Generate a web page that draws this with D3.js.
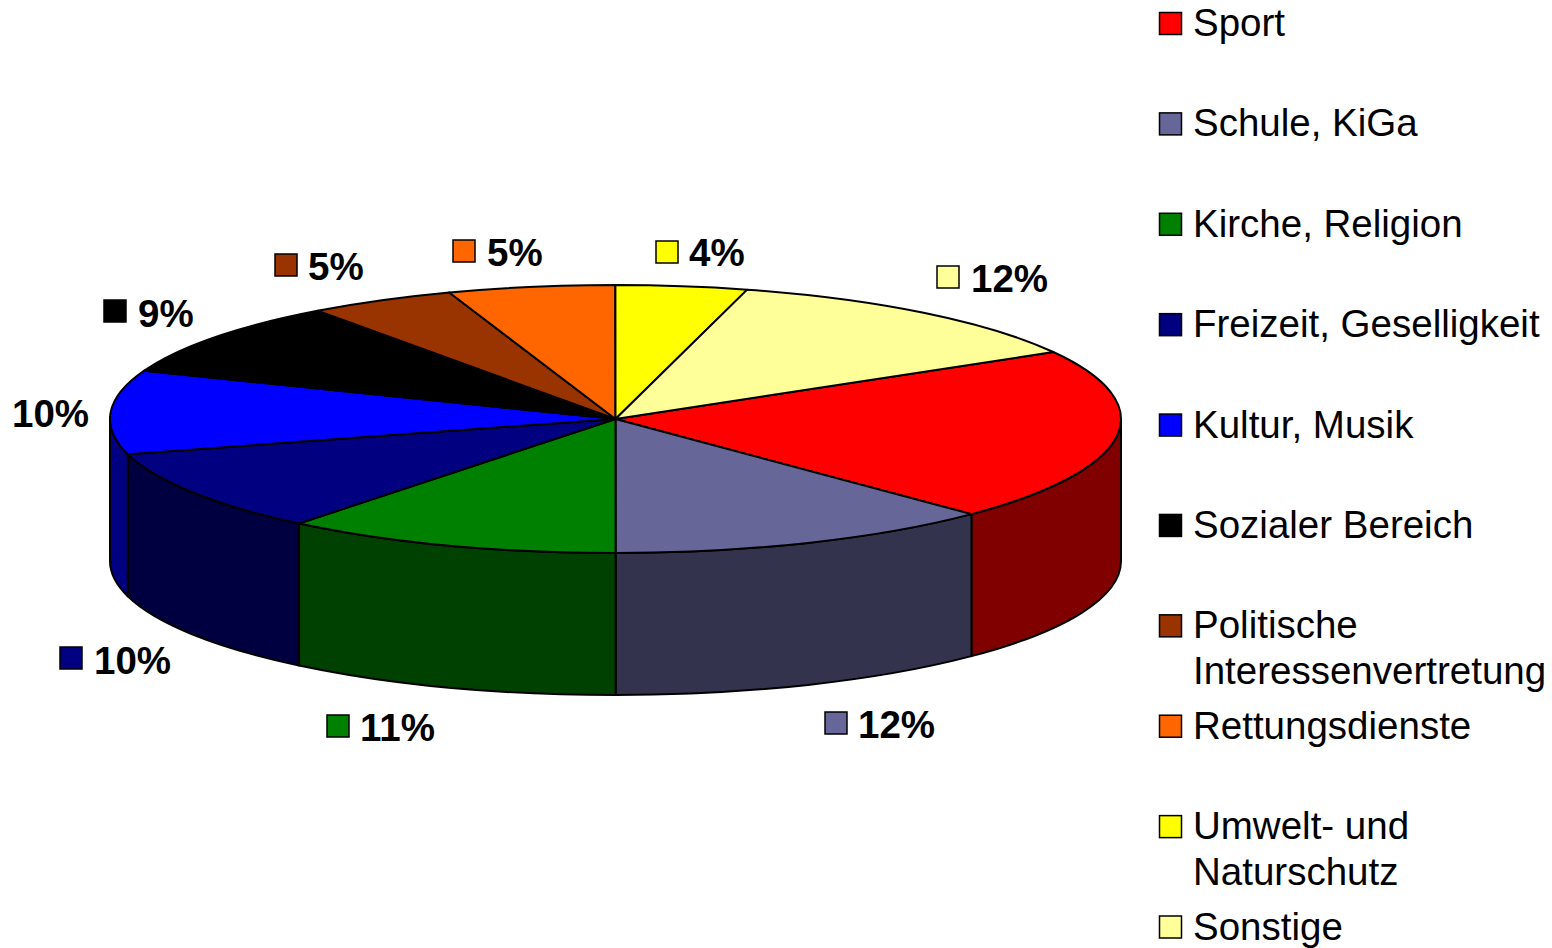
<!DOCTYPE html>
<html>
<head>
<meta charset="utf-8">
<script src="https://cdn.jsdelivr.net/npm/d3@7"></script>
<style>
  html, body { margin: 0; background: #fff; }
  text { font-family: "Liberation Sans", Arial, sans-serif; fill: #000; }
  .pct { font-size: 38.5px; font-weight: bold; }
  .leg { font-size: 38.5px; }
</style>
</head>
<body>
<div id="container"></div>
<script>
const width = 1552,
  height = 948,
  cx = 615.5,
  cy = 419,
  rx = 505.5,
  ry = 134,
  depth = 142;

// legend order, pie runs clockwise in this order
const categories = ["Sport", "Schule, KiGa", "Kirche, Religion", "Freizeit, Geselligkeit", "Kultur, Musik",
  "Sozialer Bereich", "Politische\nInteressenvertretung", "Rettungsdienste", "Umwelt- und\nNaturschutz", "Sonstige"];
const values = [20.9, 12.43, 10.77, 10.0, 10.1, 9.1, 4.7, 5.33, 4.2, 12.47];
const valueLabels = [null, "12%", "11%", "10%", "10%", "9%", "5%", "5%", "4%", "12%"];
const colors = ["#ff0000", "#666699", "#008000", "#000080", "#0000ff", "#000000", "#993300", "#ff6600", "#ffff00", "#ffff99"];

// where the data labels sit: key square left/top, text x/baseline. Kultur has no key in the original
const labelPos = [null, [825, 712, 858, 738], [327, 715, 360, 741], [60, 647, 94, 674], [null, null, 12, 427],
  [104, 300, 138, 327], [275, 254, 308, 280], [453, 240, 487, 266], [656, 241, 689, 266], [937, 266, 971, 292]];

const startAngle = 60 * Math.PI / 180;

const svg = d3.select("#container")
  .append("svg")
  .attr("width", width)
  .attr("height", height)
  .style("display", "block");

const slices = d3.pie()
  .sort(null)
  .startAngle(startAngle)
  .endAngle(startAngle + 2 * Math.PI)(values)
  .map((d, i) => ({ ...d, i }));

const px = a => cx + rx * Math.sin(a);
const py = a => cy - ry * Math.cos(a);

// front wall, only the part between 90 and 270 degrees can be seen
const wallPath = (a, b) =>
  `M${px(a)},${py(a)} A${rx},${ry} 0 0 1 ${px(b)},${py(b)} ` +
  `L${px(b)},${py(b) + depth} A${rx},${ry} 0 0 0 ${px(a)},${py(a) + depth} Z`;

const half = a => ((a % (2 * Math.PI)) + 2 * Math.PI) % (2 * Math.PI);
const walls = slices.map(d => {
  const a = Math.max(half(d.startAngle), Math.PI / 2);
  let e = half(d.endAngle);
  if (e < half(d.startAngle)) e += 2 * Math.PI;
  const b = Math.min(e, 3 * Math.PI / 2);
  return { i: d.i, a, b };
}).filter(d => d.b > d.a);

const darken = c => {
  const r = d3.rgb(c);
  return d3.rgb(r.r * 0.5, r.g * 0.5, r.b * 0.5).formatHex();
};

svg.append("g")
  .selectAll("path")
  .data(walls)
  .join("path")
  .attr("d", d => wallPath(d.a, d.b))
  .attr("fill", d => darken(colors[d.i]))
  .attr("stroke", "#000")
  .attr("stroke-width", 2)
  .attr("stroke-linejoin", "round");

// top face: plain d3.arc squashed into an ellipse
const arc = d3.arc().innerRadius(0).outerRadius(rx);

svg.append("g")
  .attr("transform", `translate(${cx},${cy}) scale(1,${ry / rx})`)
  .selectAll("path")
  .data(slices)
  .join("path")
  .attr("d", arc)
  .attr("fill", d => colors[d.i])
  .attr("stroke", "#000")
  .attr("stroke-width", 2)
  .attr("stroke-linejoin", "round")
  .attr("vector-effect", "non-scaling-stroke");

// data labels
const labels = svg.append("g")
  .selectAll("g")
  .data(categories.map((c, i) => i).filter(i => valueLabels[i]))
  .join("g");

labels.filter(i => labelPos[i][0] !== null)
  .append("rect")
  .attr("x", i => labelPos[i][0])
  .attr("y", i => labelPos[i][1])
  .attr("width", 22)
  .attr("height", 22)
  .attr("fill", i => colors[i])
  .attr("stroke", "#000")
  .attr("stroke-width", 1.5);

labels.append("text")
  .attr("class", "pct")
  .attr("x", i => labelPos[i][2])
  .attr("y", i => labelPos[i][3])
  .text(i => valueLabels[i]);

// legend
const legendY = d3.scalePoint()
  .domain(categories)
  .range([23.5, 927]);

const legend = svg.append("g")
  .selectAll("g")
  .data(categories)
  .join("g")
  .attr("transform", d => `translate(0,${legendY(d)})`);

legend.append("rect")
  .attr("x", 1159.5)
  .attr("y", -11)
  .attr("width", 22)
  .attr("height", 22)
  .attr("fill", (d, i) => colors[i])
  .attr("stroke", "#000")
  .attr("stroke-width", 1.5);

legend.append("text")
  .attr("class", "leg")
  .selectAll("tspan")
  .data(d => d.split("\n"))
  .join("tspan")
  .attr("x", 1193)
  .attr("y", (d, i) => 12.5 + i * 45.5)
  .text(d => d);
</script>
</body>
</html>
